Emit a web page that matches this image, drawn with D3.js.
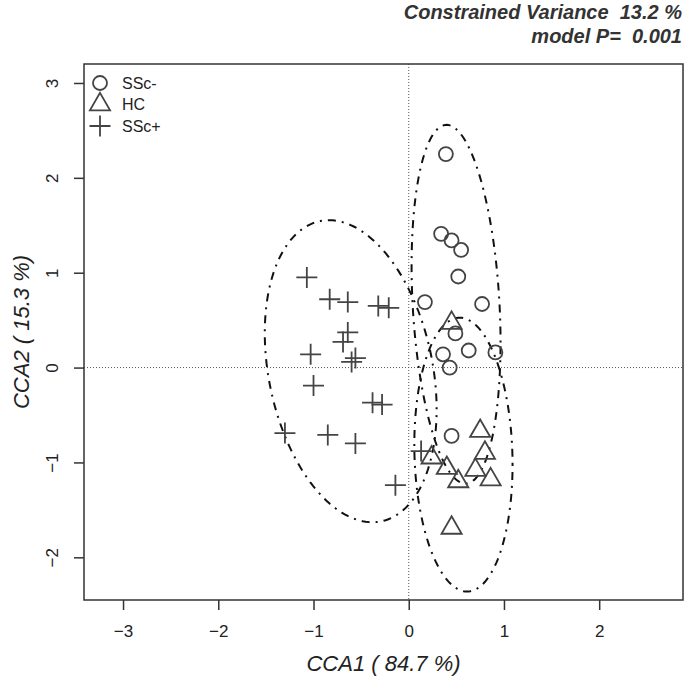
<!DOCTYPE html>
<html><head><meta charset="utf-8">
<script src="https://cdn.jsdelivr.net/npm/d3@7"></script>
<style>body{margin:0;background:#fff}svg{display:block}text{font-family:"Liberation Sans",Arial,Helvetica,sans-serif}</style>
</head><body>
<script>
// ---- data ----
const groups = ["SSc-", "HC", "SSc+"];
const sscMinusX = [0.39,0.34,0.45,0.55,0.52,0.17,0.77,0.49,0.36,0.63,0.91,0.43,0.45];
const sscMinusY = [2.25,1.41,1.34,1.24,0.96,0.69,0.67,0.36,0.14,0.18,0.16,0.00,-0.72];
const hcX = [0.45,0.75,0.80,0.24,0.40,0.70,0.52,0.86,0.45];
const hcY = [0.47,-0.67,-0.90,-0.95,-1.06,-1.08,-1.20,-1.18,-1.69];
const sscPlusX = [-1.07,-0.83,-0.64,-0.32,-0.21,-0.64,-0.69,-1.03,-0.56,-0.60,-1.00,-0.38,-0.28,-1.30,-0.85,-0.56,-0.14,0.13];
const sscPlusY = [0.95,0.72,0.69,0.65,0.63,0.37,0.27,0.14,0.10,0.06,-0.19,-0.37,-0.39,-0.69,-0.71,-0.80,-1.24,-0.88];
const xTicks = [-3,-2,-1,0,1,2];
const yTicks = [-2,-1,0,1,2,3];
const xLabel = "CCA1 ( 84.7 %)";
const yLabel = "CCA2 ( 15.3 %)";
const infoLines = ["Constrained Variance  13.2 %", "model P=  0.001"];
const ellipseConf = 0.95;

// ---- layout ----
const W = 685, H = 685;
const L = 84, R = 683, T = 64, B = 600;
const x = d3.scaleLinear().domain([-3.41, 2.88]).range([L, R]);
const y = d3.scaleLinear().domain([3.20, -2.45]).range([T, B]);
const ink = "#444";

const svg = d3.select("body").append("svg").attr("width", W).attr("height", H);

// reference lines
svg.append("line").attr("x1", x(0)).attr("x2", x(0)).attr("y1", T).attr("y2", B)
  .attr("stroke", "#555").attr("stroke-width", 1).attr("stroke-dasharray", "1,2");
svg.append("line").attr("x1", L).attr("x2", R).attr("y1", y(0)).attr("y2", y(0))
  .attr("stroke", "#555").attr("stroke-width", 1).attr("stroke-dasharray", "1,2");

// ellipses (sd, 95%)
const t = Math.sqrt(-2 * Math.log(1 - ellipseConf));
function ellipse(xs, ys) {
  const n = xs.length;
  const mx = d3.mean(xs), my = d3.mean(ys);
  let sxx = 0, syy = 0, sxy = 0;
  for (let i = 0; i < n; i++) {
    sxx += (xs[i]-mx)**2; syy += (ys[i]-my)**2; sxy += (xs[i]-mx)*(ys[i]-my);
  }
  sxx /= n-1; syy /= n-1; sxy /= n-1;
  const a = Math.sqrt(sxx), b = sxy / a, d = Math.sqrt(syy - b*b);
  return d3.range(0, 361, 2).map(deg => {
    const th = deg * Math.PI / 180, u = Math.cos(th), v = Math.sin(th);
    return [mx + t * a * u, my + t * (b * u + d * v)];
  });
}
const line = d3.line().x(d => x(d[0])).y(d => y(d[1]));
[[sscMinusX, sscMinusY], [hcX, hcY], [sscPlusX, sscPlusY]].forEach(([xs, ys]) => {
  svg.append("path").attr("d", line(ellipse(xs, ys))).attr("fill", "none")
    .attr("stroke", "#111").attr("stroke-width", 2).attr("stroke-dasharray", "2,6,8,6");
});

// symbols
const RAD = 7;
function drawSym(g, kind, cx, cy) {
  if (kind === 0) {
    g.append("circle").attr("cx", cx).attr("cy", cy).attr("r", RAD)
      .attr("fill", "none").attr("stroke", ink).attr("stroke-width", 1.8);
  } else if (kind === 1) {
    const Rt = RAD * 1.07;
    const r = 1.5551 * Rt, xc = 1.3468 * Rt, yc = 0.7776 * Rt;
    g.append("path").attr("d", `M${cx},${cy - r}L${cx + xc},${cy + yc}L${cx - xc},${cy + yc}Z`)
      .attr("fill", "none").attr("stroke", ink).attr("stroke-width", 1.8);
  } else {
    const h = RAD * 1.5;
    g.append("path").attr("d", `M${cx - h},${cy}H${cx + h}M${cx},${cy - h}V${cy + h}`)
      .attr("fill", "none").attr("stroke", ink).attr("stroke-width", 1.8);
  }
}
const pts = svg.append("g");
sscMinusX.forEach((v, i) => drawSym(pts, 0, x(v), y(sscMinusY[i])));
hcX.forEach((v, i) => drawSym(pts, 1, x(v), y(hcY[i])));
sscPlusX.forEach((v, i) => drawSym(pts, 2, x(v), y(sscPlusY[i])));

// frame
svg.append("rect").attr("x", L).attr("y", T).attr("width", R - L).attr("height", B - T)
  .attr("fill", "none").attr("stroke", "#333").attr("stroke-width", 1.5);

// axes
const fmt = d => d < 0 ? "\u2212" + Math.abs(d) : d;
const xAxis = svg.append("g").attr("transform", `translate(0,${B})`)
  .call(d3.axisBottom(x).tickValues(xTicks).tickSize(10).tickPadding(15).tickFormat(fmt));
xAxis.select(".domain").remove();
xAxis.selectAll("line").attr("stroke", "#333").attr("stroke-width", 1.5);
xAxis.selectAll("text").attr("font-size", 17).attr("fill", "#222")
  .attr("font-family", '"Liberation Sans",Arial,sans-serif');

const yAxis = svg.append("g").attr("transform", `translate(${L},0)`)
  .call(d3.axisLeft(y).tickValues(yTicks).tickSize(10).tickFormat(fmt));
yAxis.select(".domain").remove();
yAxis.selectAll("line").attr("stroke", "#333").attr("stroke-width", 1.5);
yAxis.selectAll("text").attr("font-size", 17).attr("fill", "#222")
  .attr("font-family", '"Liberation Sans",Arial,sans-serif')
  .attr("x", null).attr("dy", null)
  .attr("text-anchor", "middle")
  .attr("transform", "translate(-32,0) rotate(-90)")
  .attr("y", 6);

// axis titles
svg.append("text").attr("x", (L + R) / 2).attr("y", 671).attr("text-anchor", "middle")
  .attr("font-size", 22).attr("font-style", "italic").attr("fill", "#222").text(xLabel);
svg.append("text").attr("transform", `translate(29,${(T + B) / 2}) rotate(-90)`)
  .attr("text-anchor", "middle").attr("font-size", 22).attr("font-style", "italic")
  .attr("fill", "#222").text(yLabel);

// info text
infoLines.forEach((s, i) => {
  svg.append("text").attr("x", 682).attr("y", 19 + i * 24).attr("text-anchor", "end")
    .attr("font-size", 20).attr("font-weight", "bold").attr("font-style", "italic")
    .attr("fill", "#333").attr("xml:space", "preserve").style("white-space", "pre").text(s);
});

// legend
const lg = svg.append("g");
groups.forEach((gname, i) => {
  const cy = 83 + i * 21.5;
  drawSym(lg, i, 100, cy);
  lg.append("text").attr("x", 122).attr("y", cy + 5.5).attr("font-size", 16)
    .attr("fill", "#222").text(gname);
});
</script>
</body></html>
